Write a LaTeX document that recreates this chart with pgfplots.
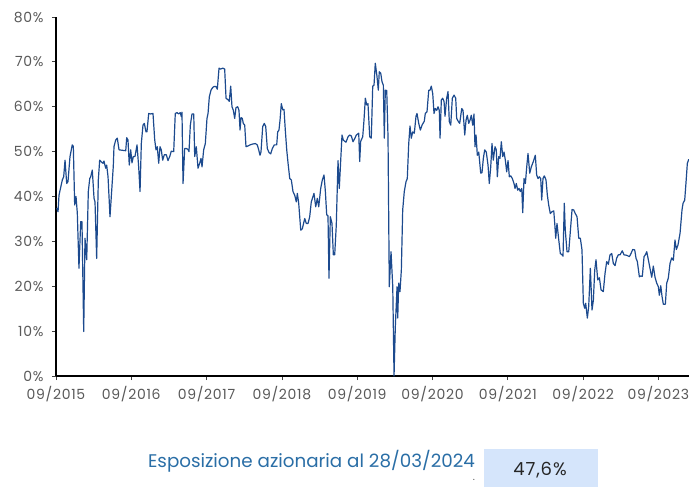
\documentclass[border=0pt]{standalone}
\usepackage{pgfplots}
\pgfplotsset{compat=1.18}
\usepackage{fontspec}
\setmainfont{Poppins}
\newfontfamily\wide[LetterSpace=5]{Poppins}
\definecolor{serie}{HTML}{1C4A8E}
\definecolor{txtblue}{HTML}{2A6EA6}
\definecolor{boxblue}{HTML}{D5E5FB}
\definecolor{ticktxt}{HTML}{595959}
\begin{document}
\begin{tikzpicture}
\useasboundingbox (0,0) rectangle (689pt,-488pt);
\begin{axis}[
  at={(56pt,-376pt)}, anchor=south west,
  scale only axis, width=633pt, height=359pt,
  xmin=0, xmax=8.406, ymin=0, ymax=80,
  axis lines=left,
  axis line style={black, line width=1.8pt, -},
  xtick={0,1,2,3,4,5,6,7,8},
  xticklabels={09/2015,09/2016,09/2017,09/2018,09/2019,09/2020,09/2021,09/2022,09/2023},
  ytick={0,10,20,30,40,50,60,70,80},
  yticklabels={0\%,10\%,20\%,30\%,40\%,50\%,60\%,70\%,80\%},
  tick align=outside,
  major tick length=4pt,
  tick style={black!75, line width=0.8pt},
  ticklabel style={font=\wide\fontsize{14}{16}\selectfont, text=ticktxt},
  xticklabel style={yshift=-3pt},
  yticklabel style={xshift=-5pt},
  /pgf/number format/assume math mode=true,
  clip=false,
]
\addplot[color=serie, line width=1.2pt, line join=round] coordinates {
(0.009,37.4)(0.027,36.6)(0.040,40.3)(0.084,43.7)(0.102,44.4)(0.120,48.1)(0.142,42.9)(0.159,43.3)
(0.186,48.9)(0.216,51.5)(0.230,51.2)(0.248,38.1)(0.266,40.0)(0.283,36.3)(0.305,24.0)(0.328,34.4)
(0.345,34.4)(0.368,9.9)(0.385,30.7)(0.408,25.9)(0.429,41.1)(0.448,44.0)(0.461,44.4)(0.482,45.9)
(0.505,39.6)(0.518,38.8)(0.540,26.2)(0.562,43.7)(0.580,48.1)(0.602,47.7)(0.624,47.4)(0.637,47.9)
(0.660,46.3)(0.673,47.0)(0.691,44.4)(0.717,35.5)(0.740,41.4)(0.761,46.8)(0.770,51.1)(0.793,52.6)
(0.814,53.0)(0.837,50.4)(0.880,50.3)(0.926,50.2)(0.939,53.1)(0.956,52.6)(0.973,47.0)(0.992,50.4)
(1.009,47.5)(1.027,48.9)(1.049,48.9)(1.076,51.5)(1.098,46.6)(1.116,41.1)(1.133,51.8)(1.155,55.9)
(1.173,56.3)(1.195,54.4)(1.208,54.4)(1.231,58.5)(1.252,58.4)(1.288,58.5)(1.311,52.6)(1.328,50.4)
(1.345,51.1)(1.364,47.4)(1.381,51.1)(1.398,50.4)(1.417,48.1)(1.438,49.3)(1.465,49.3)(1.487,48.0)
(1.510,48.9)(1.531,50.1)(1.563,50.0)(1.584,58.5)(1.607,58.7)(1.629,58.4)(1.651,58.7)(1.664,57.8)
(1.673,58.8)(1.687,42.9)(1.709,50.7)(1.730,50.7)(1.753,50.5)(1.766,50.0)(1.784,55.9)(1.806,58.4)
(1.829,58.4)(1.842,48.9)(1.863,51.1)(1.886,46.3)(1.908,47.4)(1.926,48.5)(1.939,46.6)(1.961,50.4)
(1.983,51.8)(2.005,57.4)(2.019,58.5)(2.036,62.2)(2.058,63.7)(2.081,64.3)(2.098,64.5)(2.125,64.5)
(2.142,63.9)(2.165,68.6)(2.187,68.4)(2.214,68.6)(2.240,68.4)(2.258,61.9)(2.288,61.5)(2.301,61.2)
(2.320,64.6)(2.337,60.0)(2.355,59.2)(2.373,57.4)(2.390,59.8)(2.413,60.0)(2.430,59.2)(2.444,54.8)
(2.457,57.6)(2.474,57.4)(2.487,56.3)(2.506,55.9)(2.523,51.1)(2.554,51.3)(2.576,51.5)(2.612,51.7)
(2.647,51.8)(2.673,51.5)(2.692,50.4)(2.709,49.2)(2.722,49.9)(2.745,55.6)(2.766,56.3)(2.785,55.6)
(2.806,50.7)(2.829,49.8)(2.851,49.5)(2.873,50.7)(2.899,51.5)(2.931,51.5)(2.944,54.4)(2.961,54.8)
(2.975,57.0)(2.992,60.7)(3.011,59.3)(3.028,59.4)(3.045,54.8)(3.064,50.4)(3.081,47.5)(3.104,44.0)
(3.125,43.7)(3.147,41.1)(3.170,40.3)(3.191,38.8)(3.205,40.7)(3.223,38.5)(3.250,32.5)(3.271,32.8)
(3.303,35.1)(3.324,34.0)(3.347,34.0)(3.369,35.5)(3.390,38.8)(3.426,40.7)(3.449,37.7)(3.470,39.6)
(3.489,37.7)(3.515,41.8)(3.537,43.7)(3.559,44.8)(3.576,41.4)(3.595,35.9)(3.612,35.7)(3.625,21.8)
(3.643,35.5)(3.665,34.0)(3.683,27.0)(3.701,27.0)(3.722,33.6)(3.745,48.0)(3.762,41.8)(3.781,48.1)
(3.798,53.7)(3.815,52.6)(3.834,52.3)(3.851,52.1)(3.878,53.3)(3.900,53.7)(3.922,53.5)(3.944,52.2)
(3.967,52.9)(3.988,53.7)(4.020,54.1)(4.033,47.8)(4.046,52.3)(4.073,53.3)(4.090,57.0)(4.108,61.9)
(4.126,60.4)(4.143,60.7)(4.166,53.3)(4.187,53.0)(4.206,64.6)(4.223,64.8)(4.240,69.7)(4.263,66.7)
(4.280,63.7)(4.293,67.8)(4.312,67.5)(4.329,65.6)(4.347,64.8)(4.360,53.0)(4.373,63.7)(4.392,63.6)
(4.409,53.3)(4.426,19.9)(4.449,27.7)(4.472,19.9)(4.489,0.0)(4.506,11.0)(4.529,19.9)(4.538,12.9)
(4.551,20.7)(4.568,18.8)(4.586,23.6)(4.604,37.0)(4.625,41.1)(4.648,43.3)(4.665,44.0)(4.684,51.8)
(4.701,55.7)(4.718,53.0)(4.737,54.4)(4.758,54.1)(4.781,57.9)(4.794,58.5)(4.817,56.3)(4.838,54.8)
(4.861,55.9)(4.891,56.8)(4.904,58.5)(4.927,58.9)(4.950,63.7)(4.967,63.7)(4.984,64.6)(5.003,62.9)
(5.020,58.5)(5.037,59.6)(5.056,59.2)(5.073,60.0)(5.090,59.2)(5.100,53.0)(5.117,61.5)(5.135,61.9)
(5.153,61.2)(5.166,57.9)(5.188,61.9)(5.206,63.4)(5.223,56.7)(5.242,55.9)(5.263,61.9)(5.286,62.6)
(5.308,61.9)(5.321,57.4)(5.343,56.7)(5.361,56.3)(5.388,59.6)(5.405,59.2)(5.428,53.7)(5.445,57.0)
(5.462,58.1)(5.481,56.3)(5.498,57.0)(5.515,58.1)(5.534,55.9)(5.551,58.4)(5.564,51.1)(5.578,53.7)
(5.595,49.2)(5.614,49.9)(5.640,45.2)(5.657,45.3)(5.675,48.5)(5.693,50.4)(5.714,49.9)(5.737,47.0)
(5.754,42.9)(5.773,46.6)(5.790,51.8)(5.807,48.1)(5.830,51.1)(5.847,50.4)(5.861,44.4)(5.879,48.9)
(5.896,48.5)(5.914,52.2)(5.932,48.9)(5.950,49.9)(5.967,48.1)(5.985,45.5)(6.003,48.0)(6.020,44.4)
(6.039,44.6)(6.060,44.0)(6.082,42.9)(6.096,41.8)(6.113,42.9)(6.131,41.4)(6.149,41.8)(6.166,41.1)
(6.185,41.8)(6.198,36.4)(6.215,44.0)(6.233,42.9)(6.251,46.6)(6.268,49.6)(6.291,45.2)(6.312,46.6)
(6.339,47.8)(6.365,49.2)(6.383,44.8)(6.401,44.0)(6.418,44.4)(6.437,44.0)(6.450,39.2)(6.467,44.0)
(6.485,44.6)(6.507,43.7)(6.525,40.3)(6.543,38.1)(6.564,36.2)(6.587,36.6)(6.610,36.8)(6.623,34.0)
(6.636,30.7)(6.653,34.0)(6.676,30.4)(6.697,27.3)(6.720,27.0)(6.733,26.7)(6.750,38.5)(6.763,32.5)
(6.786,27.7)(6.809,27.7)(6.830,32.2)(6.853,37.1)(6.875,37.0)(6.896,36.2)(6.919,35.5)(6.942,30.7)
(6.963,30.7)(6.985,28.1)(7.003,16.2)(7.021,15.1)(7.034,16.2)(7.056,12.9)(7.074,15.5)(7.096,24.0)
(7.118,14.7)(7.136,16.9)(7.154,23.6)(7.171,25.9)(7.194,21.4)(7.216,21.9)(7.238,19.2)(7.268,18.8)
(7.291,22.9)(7.313,25.5)(7.335,24.9)(7.357,27.0)(7.380,27.3)(7.401,25.1)(7.424,24.6)(7.446,26.3)
(7.467,27.0)(7.490,27.0)(7.520,27.9)(7.543,27.0)(7.579,26.9)(7.614,26.6)(7.636,27.3)(7.659,28.2)
(7.685,28.1)(7.703,26.2)(7.720,25.5)(7.747,22.1)(7.765,22.3)(7.786,22.2)(7.809,26.6)(7.826,27.0)
(7.845,27.7)(7.866,25.9)(7.888,24.0)(7.911,22.0)(7.932,24.5)(7.955,22.0)(7.977,20.7)(7.999,19.9)
(8.012,18.0)(8.031,20.1)(8.048,17.7)(8.065,16.0)(8.092,16.0)(8.110,20.7)(8.131,21.8)(8.154,25.1)
(8.176,26.3)(8.198,25.8)(8.220,30.3)(8.238,28.2)(8.260,29.2)(8.287,31.8)(8.313,37.0)(8.327,38.5)
(8.349,39.2)(8.367,43.3)(8.384,47.4)(8.403,48.3)
};
\end{axis}
\node[anchor=east, text=txtblue, font=\fontsize{18.3}{21}\selectfont, inner sep=0pt] at (475pt,-461pt) {Esposizione azionaria al 28/03/2024};
\node[anchor=north, text=ticktxt, font=\fontsize{10}{12}\selectfont, inner sep=0pt] at (474pt,-479pt) {.};
\fill[boxblue] (484pt,-449pt) rectangle (598pt,-487pt);
\node[text=black!85, font=\wide\fontsize{18}{20}\selectfont, inner sep=0pt] at (540pt,-470pt) {47,6\%};
\end{tikzpicture}
\end{document}
